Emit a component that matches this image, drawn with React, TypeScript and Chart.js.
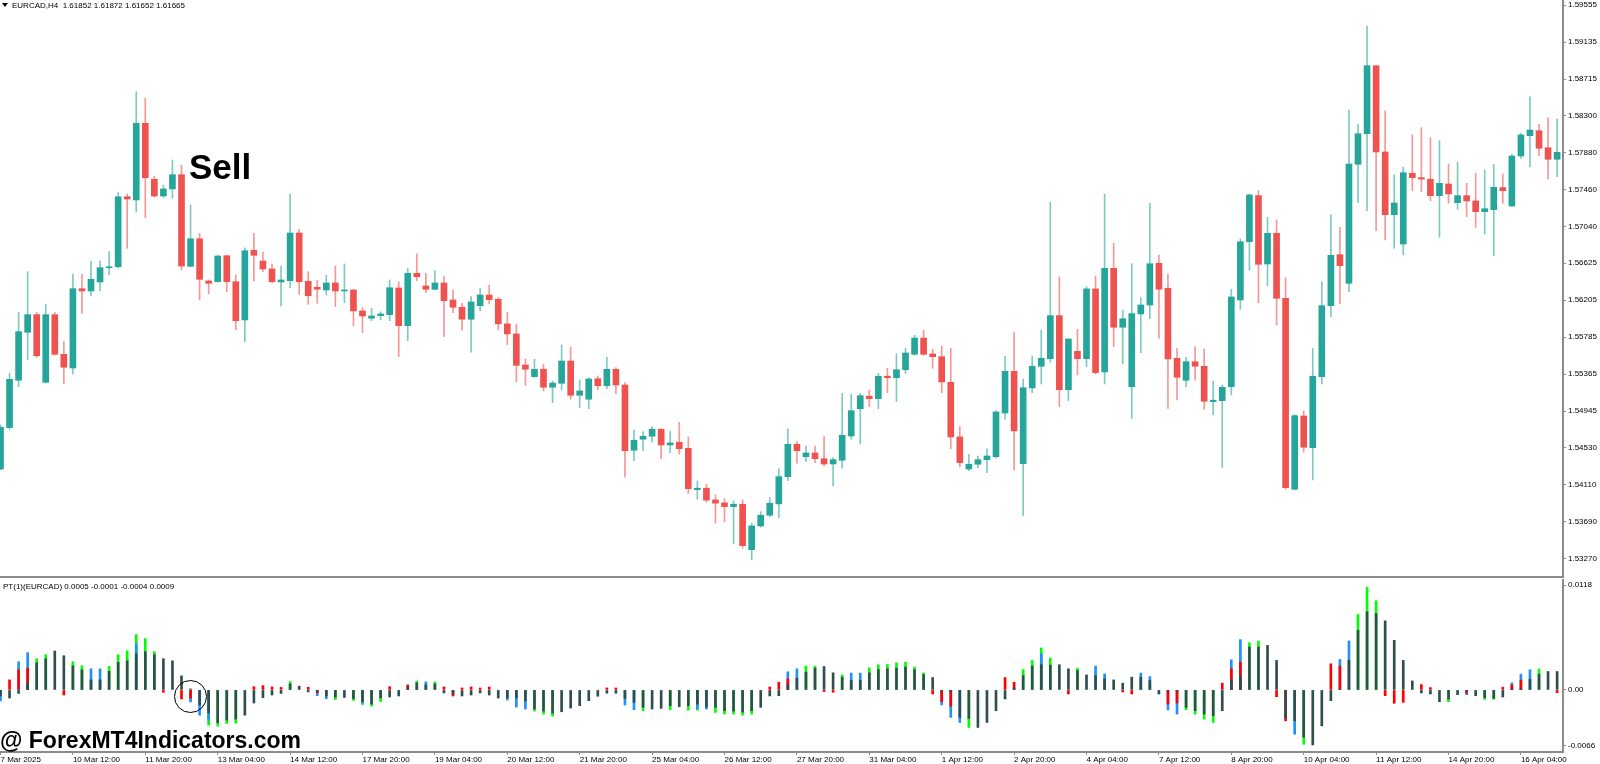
import React, { useEffect, useRef } from 'react';
import { Chart, registerables } from 'chart.js';

Chart.register(...registerables);

// ---------- EURCAD H4 candles ----------
const opens = [
  1.54288, 1.54758, 1.55295, 1.5584, 1.5604, 1.55272, 1.5604, 1.5559, 1.55435, 1.56335,
  1.56309, 1.56411, 1.56573, 1.56584, 1.57379, 1.57342, 1.58212, 1.57577, 1.57387, 1.57467,
  1.57629, 1.56589, 1.56902, 1.56422, 1.56414, 1.56709, 1.56414, 1.5598, 1.56771, 1.56649,
  1.56558, 1.56411, 1.56426, 1.56967, 1.56419, 1.56351, 1.5632, 1.564, 1.56309, 1.5632,
  1.56082, 1.55999, 1.56029, 1.5604, 1.56343, 1.55915, 1.5651, 1.56366, 1.56328, 1.564,
  1.56207, 1.56124, 1.55988, 1.56142, 1.56263, 1.56215, 1.55935, 1.55821, 1.55469, 1.55336,
  1.5542, 1.55216, 1.55261, 1.55514, 1.55125, 1.5508, 1.55313, 1.55234, 1.5542, 1.55242,
  1.54501, 1.54626, 1.5466, 1.54739, 1.54561, 1.54592, 1.54523, 1.54054, 1.5407, 1.53937,
  1.53903, 1.53861, 1.53888, 1.53372, 1.53642, 1.53763, 1.53892, 1.54201, 1.54569, 1.54428,
  1.5447, 1.54405, 1.54345, 1.54387, 1.54663, 1.54973, 1.55114, 1.55087, 1.55341, 1.55324,
  1.55415, 1.5559, 1.55775, 1.55594, 1.55563, 1.55272, 1.54652, 1.54288, 1.54342, 1.54394,
  1.54428, 1.54924, 1.55397, 1.54348, 1.55208, 1.55454, 1.5554, 1.56029, 1.55188, 1.55624,
  1.5554, 1.56332, 1.5539, 1.56566, 1.55897, 1.55222, 1.56048, 1.5615, 1.56623, 1.5634,
  1.55545, 1.55295, 1.55506, 1.55454, 1.55053, 1.55064, 1.55222, 1.56207, 1.56868, 1.57391,
  1.56615, 1.56964, 1.56226, 1.54058, 1.5489, 1.5453, 1.55336, 1.56142, 1.56721, 1.56396,
  1.57747, 1.58094, 1.58866, 1.57887, 1.57175, 1.56842, 1.57645, 1.57595, 1.57577, 1.57391,
  1.57523, 1.57311, 1.57391, 1.57331, 1.57209, 1.57232, 1.57482, 1.57274, 1.57841, 1.58072,
  1.58128, 1.57935, 1.57804,
];
const highs = [
  1.54788, 1.55375, 1.56067, 1.56528, 1.56067, 1.56158, 1.56067, 1.55734, 1.56502, 1.56502,
  1.56649, 1.56649, 1.56755, 1.57425, 1.5741, 1.58571, 1.58496, 1.57614, 1.57512, 1.57796,
  1.57739, 1.57285, 1.56964, 1.56434, 1.56717, 1.56717, 1.5649, 1.568, 1.56964, 1.56751,
  1.56615, 1.56592, 1.5741, 1.57009, 1.56528, 1.56431, 1.56487, 1.56592, 1.56615, 1.56328,
  1.5612, 1.56113, 1.56074, 1.56434, 1.56414, 1.56566, 1.56729, 1.5651, 1.5654, 1.56471,
  1.5632, 1.5617, 1.56244, 1.56335, 1.56377, 1.56233, 1.56067, 1.55931, 1.55537, 1.55533,
  1.55477, 1.55287, 1.55696, 1.5567, 1.55298, 1.55324, 1.55344, 1.55556, 1.55438, 1.55268,
  1.54731, 1.54712, 1.54769, 1.54746, 1.54716, 1.54819, 1.54652, 1.54152, 1.54115, 1.53994,
  1.53952, 1.53926, 1.53937, 1.53673, 1.53804, 1.53963, 1.54292, 1.54742, 1.54598, 1.54549,
  1.54549, 1.54655, 1.54417, 1.55148, 1.55136, 1.55148, 1.55185, 1.55375, 1.55431, 1.55597,
  1.55658, 1.55806, 1.55863, 1.55647, 1.55684, 1.55658, 1.54769, 1.54455, 1.54436, 1.54516,
  1.5495, 1.55568, 1.55836, 1.5531, 1.55571, 1.55863, 1.57316, 1.56471, 1.55764, 1.55874,
  1.56358, 1.56479, 1.57407, 1.5685, 1.5609, 1.56618, 1.56233, 1.57305, 1.56717, 1.56502,
  1.55658, 1.55556, 1.55677, 1.5565, 1.55287, 1.55242, 1.56328, 1.56899, 1.5741, 1.57448,
  1.57145, 1.57115, 1.5646, 1.54905, 1.54947, 1.55658, 1.56414, 1.57172, 1.57032, 1.58363,
  1.582, 1.59317, 1.58866, 1.58355, 1.57626, 1.57713, 1.5808, 1.58162, 1.58049, 1.58015,
  1.5775, 1.5777, 1.57531, 1.57645, 1.57682, 1.57747, 1.57637, 1.5786, 1.58099, 1.58514,
  1.582, 1.58276, 1.58261,
];
const lows = [
  1.54277, 1.54737, 1.55222, 1.55526, 1.55556, 1.55264, 1.55582, 1.55253, 1.55367, 1.56052,
  1.56252, 1.56312, 1.5649, 1.5657, 1.56793, 1.57206, 1.57138, 1.57376, 1.57368, 1.57361,
  1.56547, 1.56585, 1.56207, 1.56275, 1.56411, 1.56301, 1.55867, 1.55734, 1.56422, 1.56528,
  1.56403, 1.56139, 1.56346, 1.56271, 1.56158, 1.5617, 1.56263, 1.56131, 1.56176, 1.55912,
  1.55836, 1.55972, 1.5598, 1.55972, 1.55563, 1.55746, 1.56426, 1.5629, 1.5632, 1.55791,
  1.56063, 1.55863, 1.55613, 1.56086, 1.56161, 1.55867, 1.557, 1.55279, 1.55238, 1.55329,
  1.55174, 1.55041, 1.55185, 1.5508, 1.54985, 1.54973, 1.55188, 1.552, 1.55143, 1.54195,
  1.54383, 1.54496, 1.54592, 1.54405, 1.54473, 1.54459, 1.54009, 1.53945, 1.53911, 1.53673,
  1.53687, 1.53437, 1.53388, 1.53256, 1.53627, 1.53747, 1.53736, 1.54156, 1.54353, 1.54371,
  1.5436, 1.54322, 1.54099, 1.54296, 1.54626, 1.54572, 1.54996, 1.54973, 1.55155, 1.55053,
  1.55371, 1.55579, 1.55579, 1.55431, 1.55155, 1.54519, 1.54314, 1.54269, 1.54303, 1.54247,
  1.5441, 1.54853, 1.54277, 1.53758, 1.55155, 1.55253, 1.55499, 1.54996, 1.55064, 1.55355,
  1.5545, 1.55367, 1.55253, 1.55677, 1.55481, 1.5486, 1.55608, 1.55994, 1.55772, 1.54977,
  1.55072, 1.55222, 1.55295, 1.54966, 1.54902, 1.54303, 1.55129, 1.56101, 1.56547, 1.56176,
  1.56369, 1.55923, 1.54058, 1.5405, 1.54478, 1.54164, 1.55253, 1.56017, 1.56161, 1.56301,
  1.57311, 1.5722, 1.56993, 1.56888, 1.56793, 1.56717, 1.57448, 1.57436, 1.57334, 1.56918,
  1.57305, 1.57236, 1.57152, 1.57032, 1.56956, 1.56709, 1.57305, 1.57266, 1.57815, 1.57716,
  1.57845, 1.5758, 1.57606,
];
const closes = [
  1.54762, 1.55306, 1.55847, 1.5604, 1.55574, 1.5604, 1.5559, 1.55443, 1.56335, 1.56309,
  1.56441, 1.56573, 1.56584, 1.57379, 1.57353, 1.58212, 1.57595, 1.57387, 1.57467, 1.57629,
  1.56592, 1.56902, 1.56441, 1.56396, 1.56706, 1.56414, 1.55972, 1.56766, 1.56714, 1.56558,
  1.56414, 1.56434, 1.56967, 1.56414, 1.56255, 1.56328, 1.564, 1.56309, 1.5632, 1.56082,
  1.56025, 1.56025, 1.56048, 1.56346, 1.55915, 1.5651, 1.56471, 1.56328, 1.564, 1.56199,
  1.56124, 1.55988, 1.56184, 1.56263, 1.5621, 1.55935, 1.55821, 1.55465, 1.5542, 1.5542,
  1.55216, 1.55264, 1.55514, 1.55125, 1.55174, 1.5531, 1.55234, 1.5542, 1.55242, 1.54496,
  1.54614, 1.5466, 1.54739, 1.54561, 1.54584, 1.54519, 1.54065, 1.5407, 1.53934, 1.539,
  1.53861, 1.53888, 1.53418, 1.53642, 1.53763, 1.539, 1.54201, 1.54569, 1.54496, 1.5447,
  1.54405, 1.54345, 1.54394, 1.54671, 1.5495, 1.5512, 1.55087, 1.55341, 1.55324, 1.55415,
  1.55605, 1.55775, 1.5559, 1.55563, 1.55276, 1.54652, 1.5436, 1.54342, 1.54394, 1.54436,
  1.54936, 1.55397, 1.5472, 1.55211, 1.55454, 1.55545, 1.56029, 1.55188, 1.55764, 1.5554,
  1.56332, 1.55382, 1.56566, 1.55897, 1.55994, 1.56052, 1.5615, 1.56618, 1.56328, 1.55537,
  1.55329, 1.55506, 1.55454, 1.55057, 1.55069, 1.55216, 1.56241, 1.56868, 1.57399, 1.56612,
  1.56964, 1.56226, 1.54076, 1.54894, 1.54535, 1.55341, 1.56142, 1.56714, 1.56596, 1.5775,
  1.58094, 1.58866, 1.57887, 1.57175, 1.57308, 1.57652, 1.57595, 1.5758, 1.57391, 1.57531,
  1.5741, 1.57391, 1.57331, 1.57209, 1.57243, 1.57486, 1.57448, 1.57841, 1.5808, 1.58136,
  1.57929, 1.57804, 1.57883,
];

// ---------- axes ----------
const priceTicks = [
  1.59555, 1.59135, 1.58715, 1.583, 1.5788, 1.5746, 1.5704, 1.56625,
  1.56205, 1.55785, 1.55365, 1.54945, 1.5453, 1.5411, 1.5369, 1.5327,
];
const PRICE_MIN = 1.53062;
const PRICE_MAX = 1.59612;

const dateTickIndex = [0, 8, 16, 24, 32, 40, 48, 56, 64, 72, 80, 88, 96, 104, 112, 120, 128, 136, 144, 152, 160, 168];
const dateTickLabels = [
  '7 Mar 2025', '10 Mar 12:00', '11 Mar 20:00', '13 Mar 04:00', '14 Mar 12:00', '17 Mar 20:00',
  '19 Mar 04:00', '20 Mar 12:00', '21 Mar 20:00', '25 Mar 04:00', '26 Mar 12:00', '27 Mar 20:00',
  '31 Mar 04:00', '1 Apr 12:00', '2 Apr 20:00', '4 Apr 04:00', '7 Apr 12:00', '8 Apr 20:00',
  '10 Apr 04:00', '11 Apr 12:00', '14 Apr 20:00', '16 Apr 04:00',
];

// ---------- PT(1) indicator ----------
const ptDark = [
  -0.00064, -0.00086, -0.00037, 0.00075, 0.00289, 0.00332, 0.00414, 0.00364, 0.00257, 0.00214,
  0.00107, 0.00107, 0.00198, 0.00294, 0.0031, 0.00385, 0.00407, 0.00375, 0.00332, 0.0031,
  0.0015, 0.00011, -0.0016, -0.00246, -0.00348, -0.00321, -0.0031, -0.00268, -0.00139, -0.00082,
  -0.00054, -0.00037, 0.00064, 0.0004, -0.00021, -0.00021, -0.00064, -0.00075, -0.0008, -0.00093,
  -0.00123, -0.0015, -0.00086, -0.00075, -0.00064, 0.00032, 0.00075, 0.00054, 0.00064, -0.00032,
  -0.00043, -0.00064, -0.00054, -0.00032, -0.00054, -0.00086, -0.00086, -0.00086, -0.00118, -0.00203,
  -0.00225, -0.00246, -0.00232, -0.00193, -0.00168, -0.00114, -0.00067, -0.00035, -0.00035, -0.00089,
  -0.00132, -0.00185, -0.00203, -0.00196, -0.00168, -0.00179, -0.00168, -0.0015, -0.00182, -0.00185,
  -0.00221, -0.00225, -0.00235, -0.00221, -0.00185, -0.00064, -0.00061, 0.00054, 0.00125, 0.00189,
  0.00232, 0.00249, 0.00182, 0.00136, 0.001, 0.001, 0.00182, 0.00217, 0.00225, 0.00232,
  0.00243, 0.00217, 0.00164, 0.00132, -0.00011, -0.00021, -0.00292, -0.00303, -0.00399, -0.00346,
  -0.00221, -0.00096, 0.00021, 0.00153, 0.00254, 0.00268, 0.00264, 0.00268, 0.00225, 0.00207,
  0.0016, 0.00153, 0.00118, 0.00107, 0.00072, 0.00136, 0.00136, 0.001, -0.00043, -0.00011,
  -0.00011, -0.00185, -0.00221, -0.00257, -0.00275, -0.00221, 0.00107, 0.00153, 0.00457, 0.00457,
  0.00474, 0.00314, -0.003, -0.00328, -0.00503, -0.00585, -0.00382, -0.00114, 0.00005, 0.00314,
  0.00635, 0.00831, 0.00813, 0.00735, 0.00528, 0.00314, 0.00096, -0.00032, -0.00043, -0.00125,
  -0.00096, -0.0005, -0.00011, -0.00061, -0.00082, -0.00089, -0.00075, 0.00005, 0.00011, 0.00114,
  0.00168, 0.00196, 0.00196,
];
// [bar index, value]
const ptRed: [number, number][] = [
  [1, 0.00107], [2, 0.00214], [3, 0.00232], [7, -0.00054], [18, -0.00025], [20, -0.00096], [21, -0.00089],
  [28, 0.00035], [29, 0.00046], [30, 0.00032], [31, 0.00027], [34, 0.00029], [35, -0.00032], [43, 0.00035],
  [45, 0.00054], [49, 0.00032], [50, -0.00064], [51, 0.00021], [52, 0.00032], [53, 0.00021], [54, 0.00032],
  [67, 0.00021], [68, 0.00021], [85, 0.00032], [86, 0.00082], [87, 0.00118], [91, -0.00018], [92, -0.00025],
  [103, -0.00043], [104, -0.00125], [105, -0.00174], [111, 0.00132], [112, 0.00082], [118, -0.00043],
  [124, -0.00021], [125, -0.00043], [129, -0.0015], [130, -0.00139], [135, 0.00072], [136, 0.00225],
  [137, 0.00296], [141, -0.00072], [142, -0.00328], [147, 0.00278], [148, 0.00254], [153, -0.00061],
  [154, -0.00142], [155, -0.00132], [157, 0.00057], [158, 0.00025], [162, -0.00035], [166, 0.00029],
  [167, 0.00054], [168, 0.00104], [172, -0.00029],
];
const ptBlue: [number, number][] = [
  [0, -0.00118], [2, 0.003], [3, 0.00396], [10, 0.00225], [11, 0.00225], [15, 0.00492], [21, -0.00128],
  [22, -0.00268], [23, -0.00321], [35, -0.00061], [36, -0.00093], [40, -0.00139], [47, 0.00086],
  [56, -0.00107], [57, -0.00182], [58, -0.00203], [69, -0.0016], [70, -0.00211], [77, -0.00203],
  [78, -0.00203], [87, 0.00193], [88, 0.00225], [94, 0.00179], [95, 0.00179], [104, -0.0016],
  [105, -0.00292], [106, -0.00346], [115, 0.00385], [121, 0.00254], [122, 0.00171], [126, 0.00179],
  [127, 0.00142], [129, -0.00211], [130, -0.00257], [136, 0.00321], [137, 0.00535], [143, -0.00471],
  [148, 0.00324], [149, 0.00521], [162, -0.0005], [167, 0.00075], [168, 0.00168], [169, 0.00214],
];
const ptGreen: [number, number][] = [
  [4, 0.00332], [5, 0.00375], [8, 0.003], [9, 0.00257], [12, 0.00251], [13, 0.00375], [14, 0.00417],
  [15, 0.00589], [16, 0.00546], [17, 0.00407], [23, -0.00375], [24, -0.00385], [25, -0.00358],
  [26, -0.00353], [32, 0.00089], [37, -0.00102], [39, -0.00112], [40, -0.00155], [41, -0.00171],
  [42, -0.00123], [46, 0.00096], [48, 0.00086], [59, -0.00225], [60, -0.00257], [61, -0.00278],
  [71, -0.00221], [74, -0.00211], [76, -0.00214], [77, -0.00214], [79, -0.00239], [80, -0.00257],
  [81, -0.00257], [82, -0.00268], [83, -0.00257], [89, 0.00254], [90, 0.00254], [93, 0.0016],
  [96, 0.00235], [97, 0.00268], [98, 0.00271], [99, 0.00289], [100, 0.00296], [101, 0.00243],
  [102, 0.00182], [107, -0.00399], [113, 0.00217], [114, 0.00314], [115, 0.00446], [116, 0.00339],
  [119, 0.00232], [131, -0.00211], [132, -0.00257], [133, -0.0031], [134, -0.00346], [138, 0.00503],
  [139, 0.00521], [144, -0.00578], [150, 0.00803], [151, 0.01091], [152, 0.00949], [160, -0.00125],
  [164, -0.001], [165, -0.001], [170, 0.00221],
];
const PT_MIN = -0.0066;
const PT_MAX = 0.0118;
const ptTickLabels = ['0.0118', '0.00', '-0.0066'];
const ptTickAt = [0.01116, 0, -0.00593];

const X_MIN = -0.055;
const X_MAX = 172.65;

const UP = '#26a69a';
const DN = '#ef5350';
const UP_WICK = 'rgba(38,166,154,0.6)';
const DN_WICK = 'rgba(239,83,80,0.6)';
const AXIS = '#8c8c8c';
const FONT = "'Liberation Sans', Arial, sans-serif";

export default function App() {
  const topRef = useRef<HTMLCanvasElement | null>(null);
  const botRef = useRef<HTMLCanvasElement | null>(null);

  useEffect(() => {
    Chart.defaults.font.family = FONT;
    Chart.defaults.font.size = 8;
    Chart.defaults.color = '#000';

    const isUp = (i: number) => closes[i] >= opens[i];

    const top = new Chart(topRef.current as HTMLCanvasElement, {
      type: 'bar',
      data: {
        datasets: [
          {
            label: 'wick',
            data: opens.map((_, i) => ({ x: i, y: [lows[i], highs[i]] })) as any,
            backgroundColor: opens.map((_, i) => (isUp(i) ? UP_WICK : DN_WICK)),
            barThickness: 1,
            minBarLength: 1,
            grouped: false,
            order: 1,
          } as any,
          {
            label: 'body',
            data: opens.map((o, i) => ({ x: i, y: [o, closes[i]] })) as any,
            backgroundColor: opens.map((_, i) => (isUp(i) ? UP : DN)),
            barThickness: 6,
            minBarLength: 1,
            grouped: false,
            order: 0,
          } as any,
        ],
      },
      options: {
        responsive: false,
        animation: false,
        events: [],
        layout: { padding: 0 },
        plugins: { legend: { display: false }, tooltip: { enabled: false } },
        scales: {
          x: {
            type: 'linear',
            min: X_MIN,
            max: X_MAX,
            offset: false,
            ticks: { display: false },
            grid: { display: false, offset: false },
            border: { display: true, color: AXIS, width: 2 },
            afterFit: (s: any) => {
              s.height = 2;
              s.paddingLeft = 0;
              s.paddingRight = 0;
            },
          },
          y: {
            type: 'linear',
            position: 'right',
            min: PRICE_MIN,
            max: PRICE_MAX,
            beginAtZero: false,
            afterBuildTicks: (s: any) => {
              s.ticks = priceTicks.map((v) => ({ value: v }));
            },
            ticks: {
              autoSkip: false,
              padding: 2,
              color: '#000',
              font: { size: 8, family: FONT },
              callback: (v: any) => Number(v).toFixed(5),
            },
            grid: { drawOnChartArea: false, drawTicks: true, tickLength: 3, color: AXIS },
            border: { display: true, color: AXIS, width: 2 },
            afterFit: (s: any) => {
              s.width = 37;
              s.paddingTop = 0;
              s.paddingBottom = 0;
            },
          },
        },
      } as any,
    });

    const pairs = (arr: [number, number][]) => arr.map(([i, v]) => ({ x: i, y: v }));

    const bot = new Chart(botRef.current as HTMLCanvasElement, {
      type: 'bar',
      data: {
        datasets: [
          { label: 'green', data: pairs(ptGreen) as any, backgroundColor: '#00ff00', barThickness: 2, grouped: false, order: 3 } as any,
          { label: 'blue', data: pairs(ptBlue) as any, backgroundColor: '#1e90ff', barThickness: 2, grouped: false, order: 2 } as any,
          { label: 'red', data: pairs(ptRed) as any, backgroundColor: '#ff0000', barThickness: 2, grouped: false, order: 1 } as any,
          {
            label: 'main',
            data: ptDark.map((v, i) => ({ x: i, y: v })) as any,
            backgroundColor: '#2f4f4f',
            barThickness: 2,
            grouped: false,
            order: 0,
          } as any,
        ],
      },
      options: {
        responsive: false,
        animation: false,
        events: [],
        layout: { padding: 0 },
        plugins: { legend: { display: false }, tooltip: { enabled: false } },
        scales: {
          x: {
            type: 'linear',
            min: X_MIN,
            max: X_MAX,
            offset: false,
            afterBuildTicks: (s: any) => {
              s.ticks = dateTickIndex.map((v) => ({ value: v }));
            },
            ticks: {
              autoSkip: false,
              maxRotation: 0,
              minRotation: 0,
              align: 'start',
              padding: 0,
              color: '#000',
              font: { size: 8, family: FONT },
              callback: (_v: any, idx: number) => dateTickLabels[idx],
            },
            grid: { drawOnChartArea: false, drawTicks: true, tickLength: 3, color: AXIS, offset: false },
            border: { display: true, color: AXIS, width: 2 },
            afterFit: (s: any) => {
              s.height = 12;
              s.paddingLeft = 0;
              s.paddingRight = 0;
            },
          },
          y: {
            type: 'linear',
            position: 'right',
            min: PT_MIN,
            max: PT_MAX,
            beginAtZero: false,
            afterBuildTicks: (s: any) => {
              s.ticks = ptTickAt.map((v) => ({ value: v }));
            },
            ticks: {
              autoSkip: false,
              padding: 2,
              color: '#000',
              font: { size: 8, family: FONT },
              callback: (_v: any, idx: number) => ptTickLabels[idx],
            },
            grid: { drawOnChartArea: false, drawTicks: true, tickLength: 3, color: AXIS },
            border: { display: true, color: AXIS, width: 2 },
            afterFit: (s: any) => {
              s.width = 37;
              s.paddingTop = 0;
              s.paddingBottom = 0;
            },
          },
        },
      } as any,
    });

    return () => {
      top.destroy();
      bot.destroy();
    };
  }, []);

  const small: React.CSSProperties = {
    position: 'absolute',
    fontFamily: FONT,
    fontSize: 8,
    lineHeight: '9px',
    color: '#000',
    whiteSpace: 'pre',
  };

  return (
    <div
      style={{
        position: 'fixed',
        left: 0,
        top: 0,
        width: 1600,
        height: 764,
        background: '#fff',
        overflow: 'hidden',
      }}
    >
      <canvas ref={topRef} width={1600} height={579} style={{ position: 'absolute', left: 0, top: 0, display: 'block' }} />
      <canvas ref={botRef} width={1600} height={185} style={{ position: 'absolute', left: 0, top: 579, display: 'block' }} />

      <div
        style={{
          position: 'absolute',
          left: 2,
          top: 3,
          width: 0,
          height: 0,
          borderLeft: '3px solid transparent',
          borderRight: '3px solid transparent',
          borderTop: '4px solid #000',
        }}
      />
      <div style={{ ...small, left: 12, top: 1 }}>{'EURCAD,H4  1.61852 1.61872 1.61652 1.61665'}</div>
      <div style={{ ...small, left: 3, top: 582 }}>{'PT(1)(EURCAD) 0.0005 -0.0001 -0.0004 0.0009'}</div>

      <div
        style={{
          position: 'absolute',
          left: 189,
          top: 149,
          fontFamily: FONT,
          fontWeight: 700,
          fontSize: 35,
          lineHeight: '35px',
          color: '#000',
          whiteSpace: 'pre',
        }}
      >
        Sell
      </div>

      <div
        style={{
          position: 'absolute',
          left: 0,
          top: 729,
          fontFamily: FONT,
          fontWeight: 700,
          fontSize: 23,
          lineHeight: '23px',
          color: '#000',
          whiteSpace: 'pre',
        }}
      >
        @ ForexMT4Indicators.com
      </div>

      <div
        style={{
          position: 'absolute',
          left: 174,
          top: 680,
          width: 33,
          height: 33,
          boxSizing: 'border-box',
          border: '1.5px solid #000',
          borderRadius: '50%',
        }}
      />
    </div>
  );
}
